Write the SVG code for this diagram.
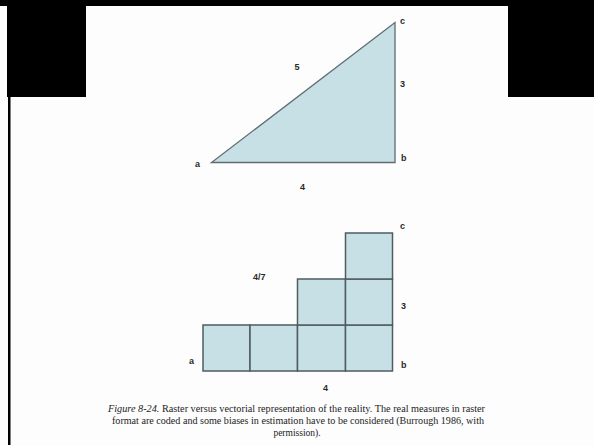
<svg xmlns="http://www.w3.org/2000/svg" width="594" height="445" viewBox="0 0 594 445">
<style>
.blk{fill:#000}
.shape{fill:#c6e0e5;stroke:#5f6e72;stroke-width:1.3}
.cell{fill:#c6e0e5;stroke:#4f5c60;stroke-width:1.5}
.lbl{font-family:"Liberation Sans",Arial,sans-serif;font-size:9px;font-weight:bold;fill:#2a2a2a}
.cap{font-family:"Liberation Serif","Times New Roman",serif;font-size:9.5px;fill:#222}
</style>
<rect width="594" height="445" fill="#fdfdfd"/>
<g id="frame">
<rect class="blk" x="0" y="0" width="594" height="6"/>
<rect class="blk" x="7" y="0" width="79" height="97"/>
<rect class="blk" x="508" y="0" width="86" height="97"/>
<rect class="blk" x="8" y="97" width="2.5" height="348"/>
</g>
<g id="triangle">
<polygon class="shape" points="211.5,162.5 395,162.5 395,22.5"/>
<text class="lbl" x="195" y="167">a</text>
<text class="lbl" x="401" y="161">b</text>
<text class="lbl" x="400" y="24">c</text>
<text class="lbl" x="294.5" y="70">5</text>
<text class="lbl" x="400" y="87">3</text>
<text class="lbl" x="300" y="190">4</text>
</g>
<g id="raster">
<rect class="cell" x="203" y="325" width="47" height="46"/>
<rect class="cell" x="250" y="325" width="47.5" height="46"/>
<rect class="cell" x="297.5" y="325" width="48" height="46"/>
<rect class="cell" x="345.5" y="325" width="47" height="46"/>
<rect class="cell" x="297.5" y="279" width="48" height="46"/>
<rect class="cell" x="345.5" y="279" width="47" height="46"/>
<rect class="cell" x="345.5" y="233" width="47" height="46"/>
<text class="lbl" x="400" y="229">c</text>
<text class="lbl" x="253" y="280">4/7</text>
<text class="lbl" x="401" y="309">3</text>
<text class="lbl" x="189" y="364">a</text>
<text class="lbl" x="401" y="368">b</text>
<text class="lbl" x="323" y="391">4</text>
</g>
<g id="caption">
<text class="cap" x="108" y="412" textLength="377" lengthAdjust="spacingAndGlyphs"><tspan font-style="italic">Figure 8-24.</tspan> Raster versus vectorial representation of the reality. The real measures in raster</text>
<text class="cap" x="112" y="424" textLength="372" lengthAdjust="spacingAndGlyphs">format are coded and some biases in estimation have to be considered (Burrough 1986, with</text>
<text class="cap" x="297" y="436" text-anchor="middle">permission).</text>
</g>
</svg>
